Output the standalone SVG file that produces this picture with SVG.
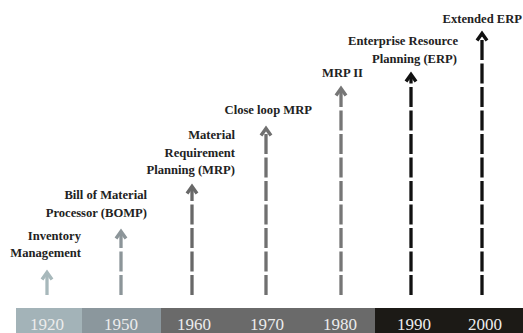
<svg xmlns="http://www.w3.org/2000/svg" width="523" height="333" viewBox="0 0 523 333">
  <style>
    .lbl { font-family: "Liberation Serif", "Times New Roman", serif; font-weight: bold; font-size: 12.6px; fill: #222; text-anchor: end; }
    .yr { font-family: "Liberation Serif", "Times New Roman", serif; font-size: 17px; fill: #ececec; text-anchor: middle; }
    .shaft { fill: none; stroke-width: 3.3; stroke-dasharray: 20 3.5; }
    .head { fill: none; stroke-width: 3.4; stroke-linejoin: miter; stroke-linecap: butt; }
  </style>
  <rect width="523" height="333" fill="#ffffff"/>

  <!-- timeline bar -->
  <g id="timeline">
    <rect x="16" y="308" width="66" height="25" fill="#a3b3b8"/>
    <rect x="82" y="308" width="79" height="25" fill="#8b979d"/>
    <rect x="161" y="308" width="214" height="25" fill="#6a6a6a"/>
    <rect x="375" y="308" width="148" height="25" fill="#1c1a16"/>
    <text class="yr" x="47" y="330">1920</text>
    <text class="yr" x="121" y="330">1950</text>
    <text class="yr" x="194" y="330">1960</text>
    <text class="yr" x="267" y="330">1970</text>
    <text class="yr" x="340" y="330">1980</text>
    <text class="yr" x="414" y="330">1990</text>
    <text class="yr" x="485" y="330">2000</text>
  </g>

  <!-- arrows -->
  <g id="connectors">
    <g stroke="#a7b8bb">
      <line x1="47" y1="295" x2="47" y2="273" stroke-width="3.3"/>
      <path class="head" d="M42,279.5 L47,272.5 L52,279.5"/>
    </g>
    <g stroke="#8c9599">
      <line class="shaft" x1="121" y1="295" x2="121" y2="233"/>
      <path class="head" d="M116,238.5 L121,231.5 L126,238.5"/>
    </g>
    <g stroke="#686868">
      <line class="shaft" x1="192" y1="295" x2="192" y2="188"/>
      <path class="head" d="M187,193.5 L192,186.5 L197,193.5"/>
    </g>
    <g stroke="#707070">
      <line class="shaft" x1="266" y1="295" x2="266" y2="130"/>
      <path class="head" d="M261,135.5 L266,128.5 L271,135.5"/>
    </g>
    <g stroke="#767676">
      <line class="shaft" x1="341" y1="295" x2="341" y2="90"/>
      <path class="head" d="M336,95.5 L341,88.5 L346,95.5"/>
    </g>
    <g stroke="#111111">
      <line class="shaft" x1="411" y1="295" x2="411" y2="76"/>
      <path class="head" d="M406,81.5 L411,74.5 L416,81.5"/>
    </g>
    <g stroke="#111111">
      <line class="shaft" x1="482" y1="295" x2="482" y2="35"/>
      <path class="head" d="M477,40.5 L482,33.5 L487,40.5"/>
    </g>
  </g>

  <!-- stage labels -->
  <g id="inventory">
    <text class="lbl" x="81" y="240">Inventory</text>
    <text class="lbl" x="81" y="257">Management</text>
  </g>
  <g id="bomp">
    <text class="lbl" x="147" y="199">Bill of Material</text>
    <text class="lbl" x="147" y="217">Processor (BOMP)</text>
  </g>
  <g id="mrp">
    <text class="lbl" x="235" y="139">Material</text>
    <text class="lbl" x="235" y="156.5">Requirement</text>
    <text class="lbl" x="235" y="174">Planning (MRP)</text>
  </g>
  <g id="closeloop">
    <text class="lbl" x="312" y="114">Close loop MRP</text>
  </g>
  <g id="mrp2">
    <text class="lbl" x="363" y="77">MRP II</text>
  </g>
  <g id="erp">
    <text class="lbl" x="458" y="45">Enterprise Resource</text>
    <text class="lbl" x="457" y="63">Planning (ERP)</text>
  </g>
  <g id="exterp">
    <text class="lbl" x="522" y="23">Extended ERP</text>
  </g>
</svg>
